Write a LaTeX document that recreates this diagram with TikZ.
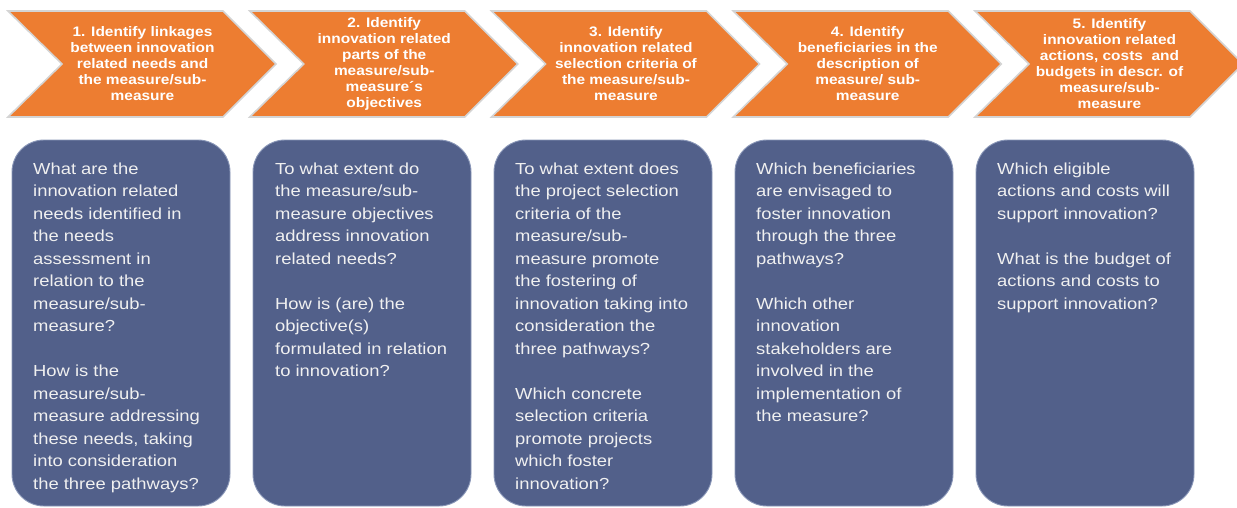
\documentclass[tikz,border=0pt]{standalone}
\usepackage{fontspec}
\setmainfont{Liberation Sans}
\newfontfamily\boxfont[FakeStretch=1.15]{Liberation Sans}
\newfontfamily\chevfont[FakeStretch=1.12]{Liberation Sans}
\definecolor{orng}{HTML}{ED7D31}
\definecolor{boxblue}{HTML}{52608A}
\definecolor{boxedge}{HTML}{8A97B8}
\definecolor{boxtext}{HTML}{F0F0F0}
\definecolor{chevedge}{HTML}{D4D4D4}
\tikzset{
  chevshape/.style={fill=orng, draw=chevedge, line width=1.6pt, line join=miter},
  chevtext/.style={text=white, align=center, inner sep=0pt,
    font=\chevfont\bfseries\fontsize{13.8}{16}\selectfont},
  qbox/.style={fill=boxblue, draw=boxedge, line width=0.9pt, rounded corners=32pt},
  qtext/.style={text=boxtext, align=left, inner sep=0pt, anchor=north west,
    font=\boxfont\fontsize{16}{22.5}\selectfont}
}
\begin{document}
\begin{tikzpicture}[x=1pt,y=-1pt]
\useasboundingbox (0,0) rectangle (1237,507);
\clip (0,0) rectangle (1237,507);
\fill[white] (0,0) rectangle (1237,507);
% chevrons
\foreach \i/\L in {1/8,2/249.75,3/491.5,4/733.25,5/975}{
  \draw[chevshape] (\L,11) -- ({\L+215},11) -- ({\L+268},64) -- ({\L+215},117)
     -- (\L,117) -- ({\L+54},64) -- cycle;
}
\node[chevtext] (t1) at (142.5,64) {1. Identify linkages\\between innovation\\related needs and\\the measure/sub-\\measure};
\node[chevtext] (t2) at (384.25,64) {2. Identify\\innovation related\\parts of the\\measure/sub-\\measure´s\\objectives};
\node[chevtext] (t3) at (626,64) {3. Identify\\innovation related\\selection criteria of\\the measure/sub-\\measure};
\node[chevtext] (t4) at (867.75,64) {4. Identify\\beneficiaries in the\\description of\\measure/ sub-\\measure};
\node[chevtext] (t5) at (1109.5,64) {5. Identify\\innovation related\\actions, costs~ and\\budgets in descr. of\\measure/sub-\\measure};
% question boxes
\foreach \B in {12,253,494,735,976}{
  \draw[qbox] (\B,140) rectangle ({\B+218},506);
}
\node[qtext] (q1) at (33,162.3) {What are the\\innovation related\\needs identified in\\the needs\\assessment in\\relation to the\\measure/sub-\\measure?\\[22.5pt]How is the\\measure/sub-\\measure addressing\\these needs, taking\\into consideration\\the three pathways?};
\node[qtext] (q2) at (275,162.3) {To what extent do\\the measure/sub-\\measure objectives\\address innovation\\related needs?\\[22.5pt]How is (are) the\\objective(s)\\formulated in relation\\to innovation?};
\node[qtext] (q3) at (515,162.3) {To what extent does\\the project selection\\criteria of the\\measure/sub-\\measure promote\\the fostering of\\innovation taking into\\consideration the\\three pathways?\\[22.5pt]Which concrete\\selection criteria\\promote projects\\which foster\\innovation?};
\node[qtext] (q4) at (756,162.3) {Which beneficiaries\\are envisaged to\\foster innovation\\through the three\\pathways?\\[22.5pt]Which other\\innovation\\stakeholders are\\involved in the\\implementation of\\the measure?};
\node[qtext] (q5) at (997,162.3) {Which eligible\\actions and costs will\\support innovation?\\[22.5pt]What is the budget of\\actions and costs to\\support innovation?};
\end{tikzpicture}
\end{document}
